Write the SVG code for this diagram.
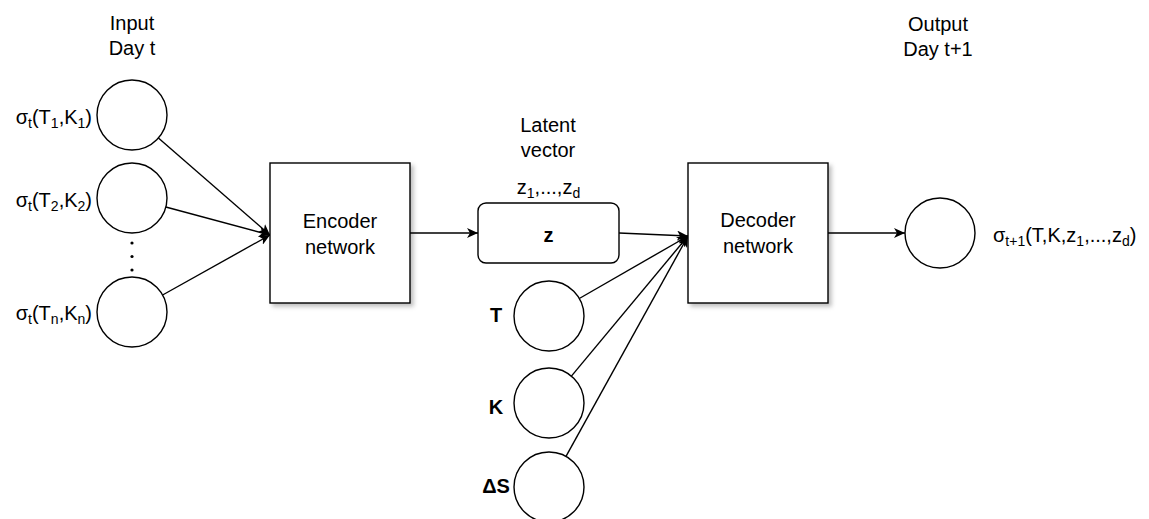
<svg xmlns="http://www.w3.org/2000/svg" width="1149" height="519" viewBox="0 0 1149 519">
<style>
text{font-family:"Liberation Sans",Arial,sans-serif;font-size:20px;fill:#000}
.c{text-anchor:middle}
.b{font-weight:bold}
.n{fill:#fff;stroke:#000;stroke-width:1.4}
.e{fill:none;stroke:#000;stroke-width:1.4}
.s{font-size:14px}
</style>
<defs>
<marker id="ar" markerUnits="userSpaceOnUse" markerWidth="12" markerHeight="10" refX="11" refY="5" orient="auto">
<path d="M0,0 L11,5 L0,10 L3,5 Z" fill="#000"/>
</marker>
<filter id="sh" x="-10%" y="-10%" width="130%" height="130%">
<feDropShadow dx="3" dy="3" stdDeviation="2" flood-color="#000" flood-opacity="0.25"/>
</filter>
</defs>
<g id="headers">
<text class="c" x="132" y="30">Input</text>
<text class="c" x="132" y="55">Day t</text>
<text class="c" x="938" y="31">Output</text>
<text class="c" x="938" y="56">Day t+1</text>
<text class="c" x="548" y="132">Latent</text>
<text class="c" x="548" y="157">vector</text>
</g>
<g id="connectors">
<line class="e" x1="158.4" y1="138" x2="270" y2="235" marker-end="url(#ar)"/>
<line class="e" x1="165.8" y1="207" x2="270" y2="235" marker-end="url(#ar)"/>
<line class="e" x1="162.6" y1="295" x2="270" y2="235" marker-end="url(#ar)"/>
<line class="e" x1="410" y1="233" x2="478" y2="233" marker-end="url(#ar)"/>
<line class="e" x1="619" y1="233" x2="688" y2="236" marker-end="url(#ar)"/>
<line class="e" x1="579.3" y1="298.5" x2="688" y2="236" marker-end="url(#ar)"/>
<line class="e" x1="571.4" y1="376.1" x2="688" y2="236" marker-end="url(#ar)"/>
<line class="e" x1="566" y1="456.4" x2="688" y2="236" marker-end="url(#ar)"/>
<line class="e" x1="828" y1="233" x2="905" y2="233" marker-end="url(#ar)"/>
</g>
<g id="in1">
<circle class="n" cx="132" cy="115" r="35"/>
<text x="92" y="124" text-anchor="end">σ<tspan class="s" dy="4">t</tspan><tspan dy="-4">(T</tspan><tspan class="s" dy="4">1</tspan><tspan dy="-4">,K</tspan><tspan class="s" dy="4">1</tspan><tspan dy="-4">)</tspan></text>
</g>
<g id="in2">
<circle class="n" cx="132" cy="198" r="35"/>
<text x="92" y="207" text-anchor="end">σ<tspan class="s" dy="4">t</tspan><tspan dy="-4">(T</tspan><tspan class="s" dy="4">2</tspan><tspan dy="-4">,K</tspan><tspan class="s" dy="4">2</tspan><tspan dy="-4">)</tspan></text>
</g>
<g id="dots">
<circle cx="132" cy="243" r="1.6" fill="#000"/>
<circle cx="132" cy="256.5" r="1.6" fill="#000"/>
<circle cx="132" cy="270" r="1.6" fill="#000"/>
</g>
<g id="inn">
<circle class="n" cx="132" cy="312" r="35"/>
<text x="92" y="320" text-anchor="end">σ<tspan class="s" dy="4">t</tspan><tspan dy="-4">(T</tspan><tspan class="s" dy="4">n</tspan><tspan dy="-4">,K</tspan><tspan class="s" dy="4">n</tspan><tspan dy="-4">)</tspan></text>
</g>
<g id="encoder">
<rect class="n" x="270" y="163" width="140" height="140" filter="url(#sh)"/>
<text class="c" x="340" y="228">Encoder</text>
<text class="c" x="340" y="254">network</text>
</g>
<g id="latent">
<rect class="n" x="478" y="203" width="141" height="60" rx="8"/>
<text class="c b" x="548.5" y="242">z</text>
<text class="c" x="548.5" y="194">z<tspan class="s" dy="4">1</tspan><tspan dy="-4">,...,z</tspan><tspan class="s" dy="4">d</tspan></text>
</g>
<g id="nodeT">
<circle class="n" cx="549" cy="316" r="35"/>
<text class="c b" x="496" y="322">T</text>
</g>
<g id="nodeK">
<circle class="n" cx="549" cy="403" r="35"/>
<text class="c b" x="496" y="414">K</text>
</g>
<g id="nodeS">
<circle class="n" cx="549" cy="487" r="35"/>
<text class="c b" x="496" y="493">ΔS</text>
</g>
<g id="decoder">
<rect class="n" x="688" y="163" width="140" height="140" filter="url(#sh)"/>
<text class="c" x="758" y="227">Decoder</text>
<text class="c" x="758" y="253">network</text>
</g>
<g id="output">
<circle class="n" cx="940" cy="233" r="35"/>
<text x="993" y="242">σ<tspan class="s" dy="4">t+1</tspan><tspan dy="-4">(T,K,z</tspan><tspan class="s" dy="4">1</tspan><tspan dy="-4">,...,z</tspan><tspan class="s" dy="4">d</tspan><tspan dy="-4">)</tspan></text>
</g>
</svg>
